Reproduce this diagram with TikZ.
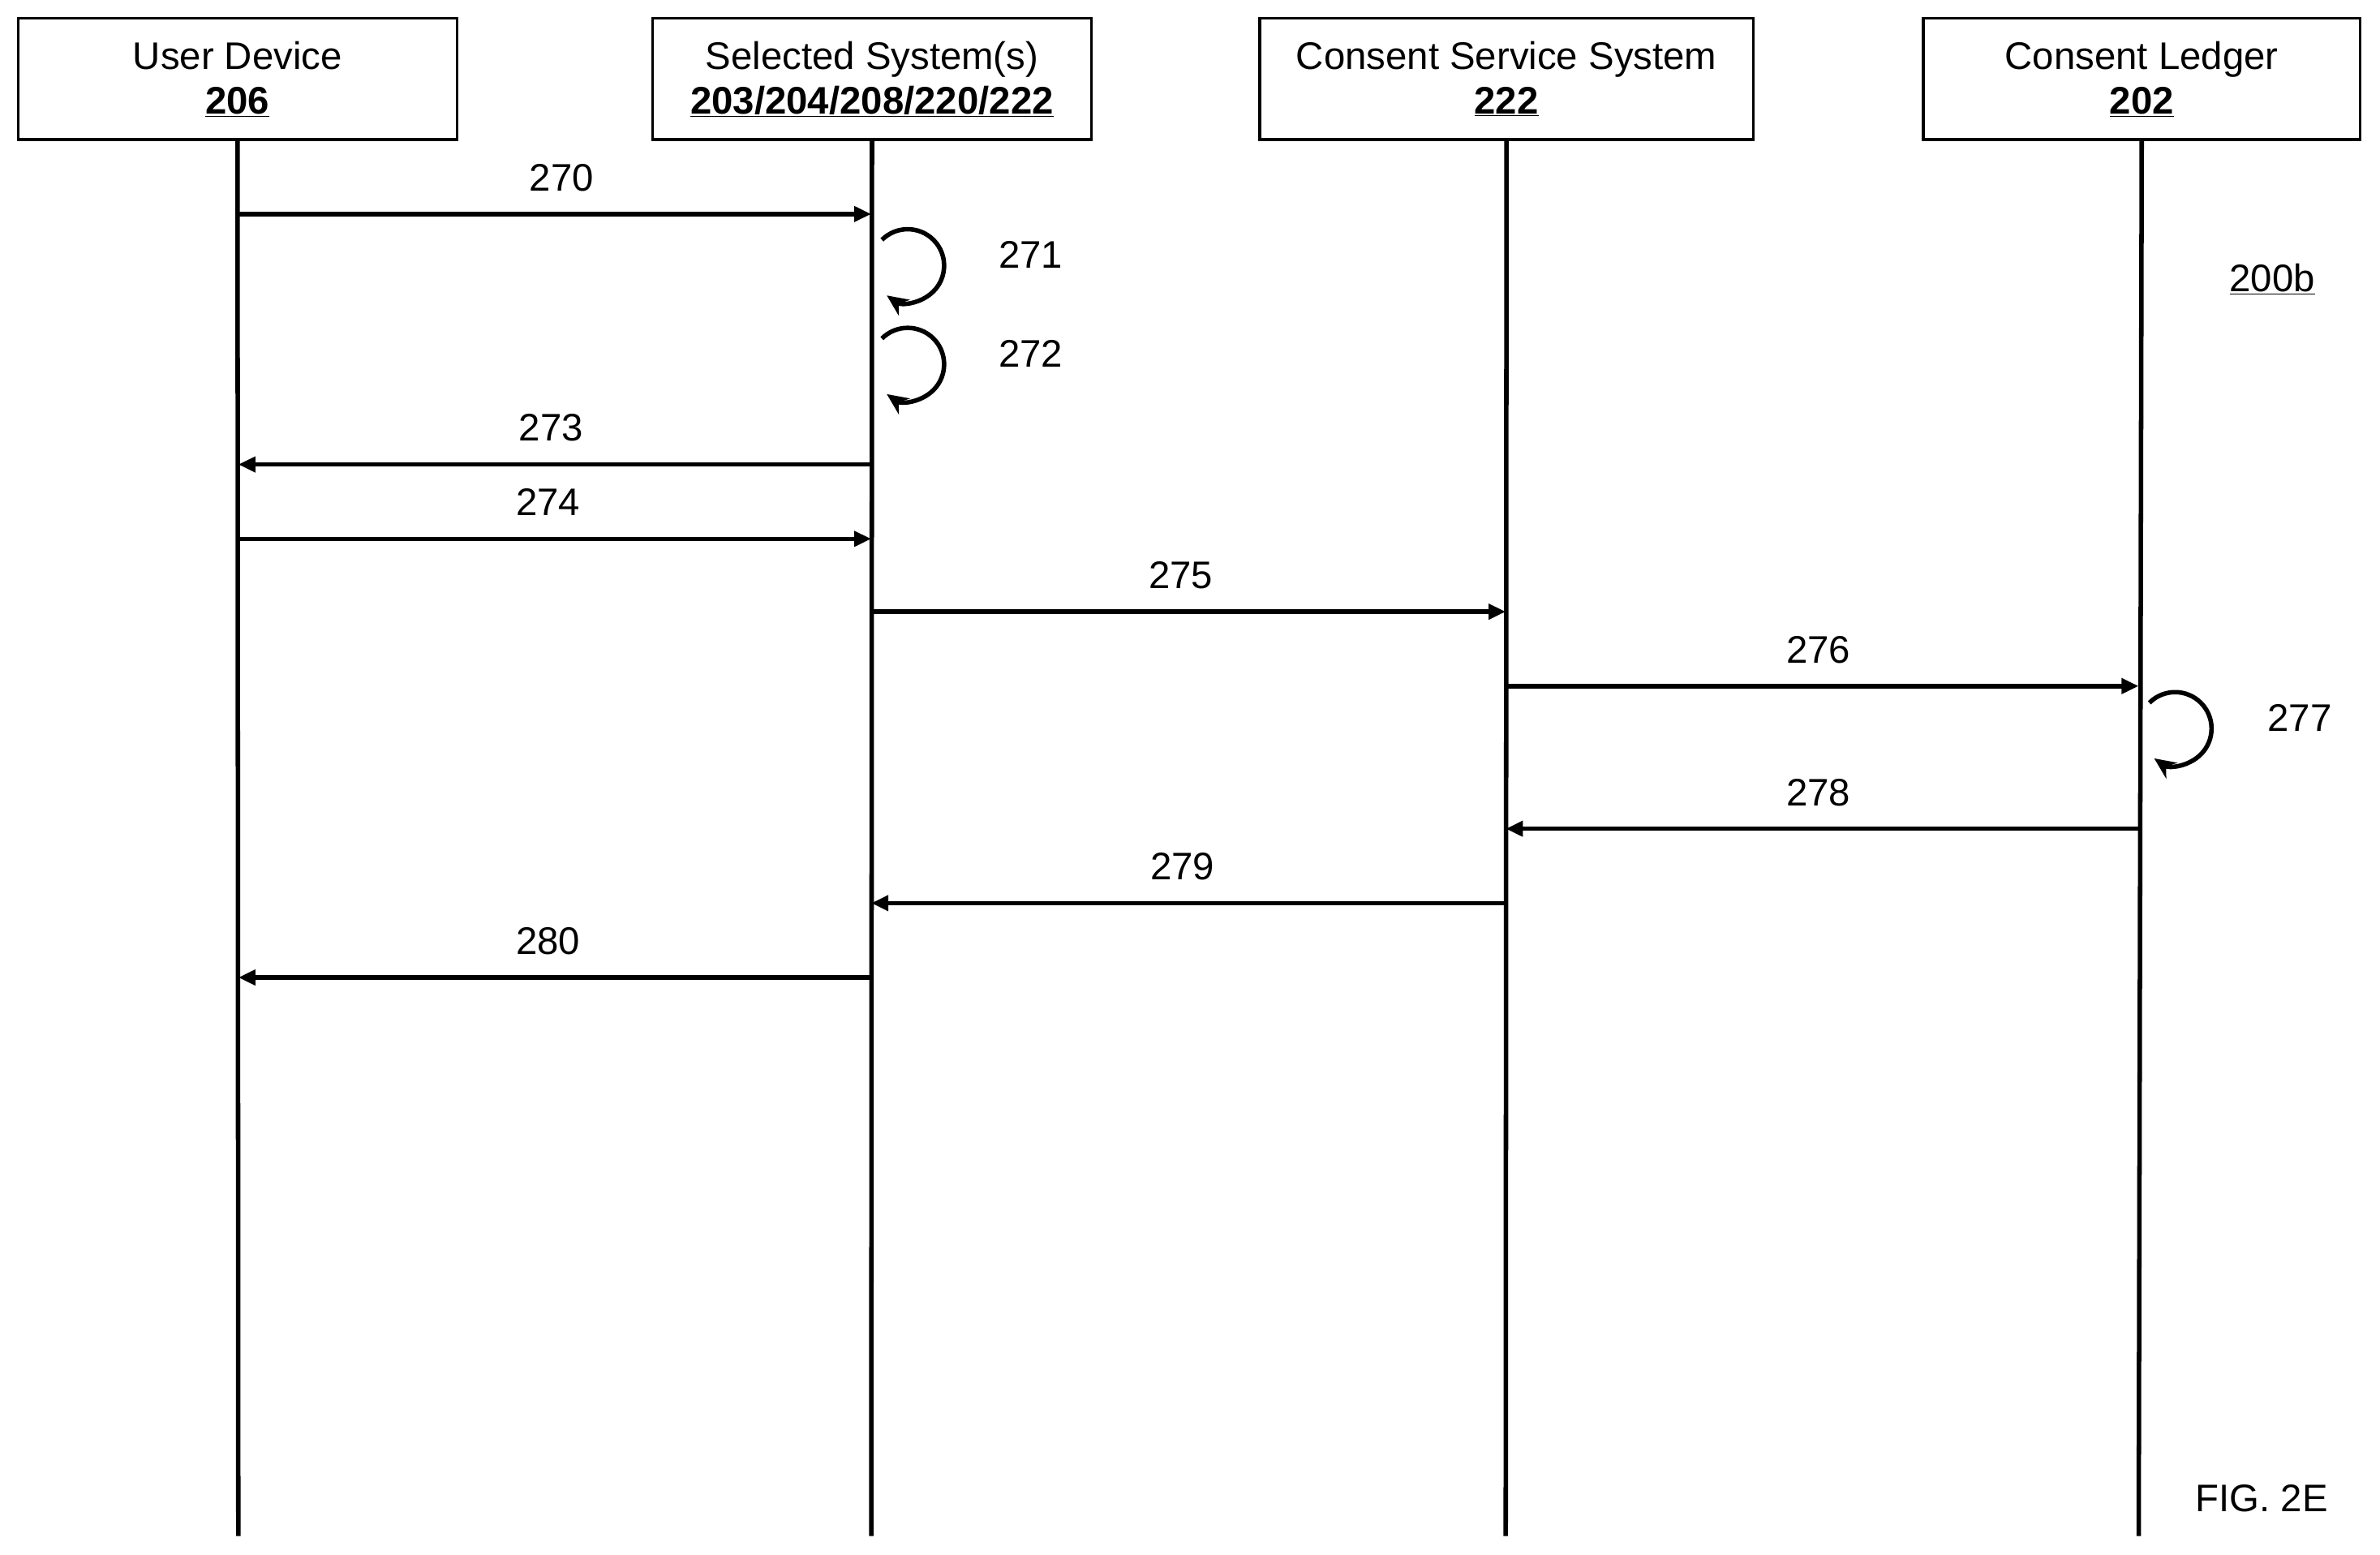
\documentclass[tikz,border=0pt]{standalone}
\usepackage{fontspec}
\setmainfont{Liberation Sans}
\usetikzlibrary{arrows.meta}
\begin{document}
\begin{tikzpicture}[x=0.05cm,y=-0.05cm,
  box/.style={draw,line width=2.6pt,minimum height=4cm,inner sep=0pt,align=center,font=\fontsize{36}{42}\selectfont},
  life/.style={line width=4.2pt},
  msg/.style={line width=4.2pt,-{Triangle[length=16pt,width=14pt]}},
  loop/.style={line width=4.2pt,-{Stealth[length=20pt,width=18pt]}},
  lbl/.style={font=\fontsize{36}{42}\selectfont}]
\useasboundingbox (0,0) rectangle (1568,1024);
\node[box,minimum width=14.45cm] (b1) at (156.5,52) {User Device\\\textbf{\underline{206}}};
\node[box,minimum width=14.45cm] (b2) at (574.5,52) {Selected System(s)\\\textbf{\underline{203/204/208/220/222}}};
\node[box,minimum width=16.25cm] (b3) at (992.5,52) {Consent Service System\\\textbf{\underline{222}}};
\node[box,minimum width=14.4cm] (b4) at (1411,52) {Consent Ledger\\\textbf{\underline{202}}};
\foreach \n/\x in {1/157,2/574,3/992,4/1409}{
  \coordinate (e\n) at (\x,1012);
  \draw[life] (b\n.south) -- (e\n);
}
\foreach \y/\a/\b/\t/\lx in {141/157/574/270/370, 306/574/157/273/363, 355/157/574/274/361, 403/574/992/275/778, 452/992/1409/276/1198, 546/1409/992/278/1198, 595/992/574/279/779, 644/574/157/280/361}{
  \coordinate (s\t) at (\a,\y); \coordinate (t\t) at (\b,\y);
  \draw[msg] (s\t) -- (t\t);
  \node[lbl] (l\t) at (\lx,\y-24) {\t};
}
\foreach \cx/\cy/\t/\lx in {598/175/271/679, 598/240/272/679, 1433/480/277/1515}{
  \coordinate (c\t) at (\cx,\cy);
  \draw[loop] ([shift={(-135:24)}]c\t) arc[start angle=-135,end angle=125,radius=24];
  \node[lbl] (l\t) at (\lx,\cy-7) {\t};
}
\node[lbl] (fig) at (1497,184) {\underline{200b}};
\node[lbl] (f2e) at (1490,987) {FIG. 2E};
\end{tikzpicture}
\end{document}
